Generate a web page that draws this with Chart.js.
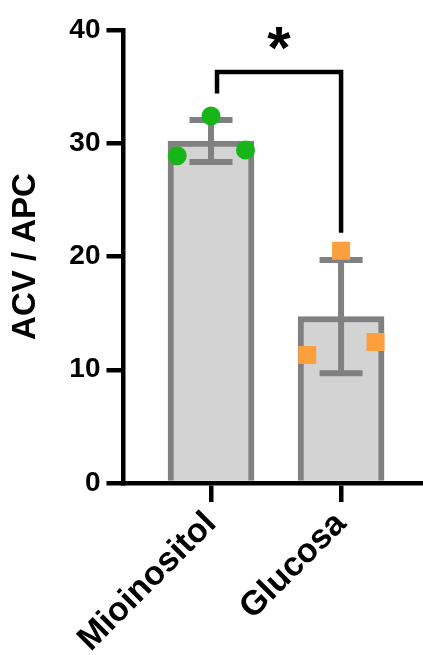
<!DOCTYPE html>
<html>
<head>
<meta charset="utf-8">
<script src="https://cdn.jsdelivr.net/npm/chart.js@4"></script>
<style>
html,body{margin:0;padding:0;background:#fff;}
canvas{display:block;}
</style>
</head>
<body>
<canvas id="c" width="423" height="655"></canvas>
<script>
// ---- data ----
const categories = ['Mioinositol', 'Glucosa'];
const means = [30.2, 14.7];
const sds = [1.85, 5.0];
const mioPoints = [28.9, 32.4, 29.4];
const gluPoints = [11.3, 20.5, 12.45];
const jitter = [-0.26, 0, 0.265];
const yTicks = [0, 10, 20, 30, 40];
const yTitle = 'ACV / APC';
const sigLabel = '*';
const sigPair = [0, 1];
const sigBracketY = 36.3;
const sigLegEnds = [34.4, 22.1];

const FONT = "'Liberation Sans', Arial, Helvetica, sans-serif";
const GRAY = '#808080';

const errorBarPlugin = {
  id: 'errorBars',
  afterDatasetDraw(chart, args) {
    if (args.index !== 0) return;
    const {ctx, scales: {x, y}} = chart;
    ctx.save();
    ctx.strokeStyle = GRAY;
    ctx.lineWidth = 6;
    ctx.lineCap = 'butt';
    means.forEach((m, i) => {
      const px = x.getPixelForValue(i);
      const top = y.getPixelForValue(m + sds[i]);
      const bot = y.getPixelForValue(m - sds[i]);
      ctx.beginPath();
      ctx.moveTo(px, top); ctx.lineTo(px, bot);
      ctx.moveTo(px - 21.5, top); ctx.lineTo(px + 21.5, top);
      ctx.moveTo(px - 21.5, bot); ctx.lineTo(px + 21.5, bot);
      ctx.stroke();
    });
    ctx.restore();
  }
};

const sigPlugin = {
  id: 'sig',
  afterDraw(chart) {
    const {ctx, scales: {x, y}} = chart;
    const x1 = x.getPixelForValue(sigPair[0]) + 6;
    const x2 = x.getPixelForValue(sigPair[1]);
    const yb = y.getPixelForValue(sigBracketY);
    ctx.save();
    ctx.strokeStyle = '#000';
    ctx.lineWidth = 4.5;
    ctx.lineJoin = 'miter';
    ctx.beginPath();
    ctx.moveTo(x1, y.getPixelForValue(sigLegEnds[0]));
    ctx.lineTo(x1, yb);
    ctx.lineTo(x2, yb);
    ctx.lineTo(x2, y.getPixelForValue(sigLegEnds[1]));
    ctx.stroke();
    ctx.fillStyle = '#000';
    const fs = 60;
    ctx.font = 'bold ' + fs + 'px ' + FONT;
    ctx.textAlign = 'center';
    ctx.textBaseline = 'alphabetic';
    ctx.fillText(sigLabel, (x1 + x2) / 2, yb - 39 + 0.58 * fs);
    ctx.restore();
  }
};

const barData = means.map((m, i) => ({x: i, y: m}));
const ptsMio = mioPoints.map((v, i) => ({x: 0 + jitter[i], y: v}));
const ptsGlu = gluPoints.map((v, i) => ({x: 1 + jitter[i], y: v}));

new Chart(document.getElementById('c'), {
  data: {
    datasets: [
      {
        type: 'bar',
        data: barData,
        backgroundColor: '#D3D3D3',
        borderColor: GRAY,
        borderWidth: 6,
        borderSkipped: 'start',
        barThickness: 86,
        order: 3
      },
      {
        type: 'scatter',
        data: ptsMio,
        backgroundColor: '#17B517',
        borderWidth: 0,
        pointStyle: 'circle',
        pointRadius: 9.5,
        order: 1
      },
      {
        type: 'scatter',
        data: ptsGlu,
        backgroundColor: '#FBA03D',
        borderWidth: 0,
        pointStyle: 'rect',
        pointRadius: 12.7,
        order: 1
      }
    ]
  },
  options: {
    responsive: false,
    animation: false,
    devicePixelRatio: 1,
    layout: {autoPadding: false, padding: {top: 30, left: 0, right: 0, bottom: 0}},
    plugins: {legend: {display: false}, tooltip: {enabled: false}},
    scales: {
      x: {
        type: 'linear',
        offset: false,
        bounds: 'data',
        min: -0.673,
        max: 1.63,
        afterBuildTicks(scale) { scale.ticks = categories.map((c, i) => ({value: i})); },
        afterFit(scale) {
          scale.height = 172;
          scale.paddingLeft = 0;
          scale.paddingRight = 0;
        },
        ticks: {
          callback: (v) => categories[v],
          autoSkip: false,
          minRotation: 45,
          maxRotation: 45,
          color: '#000',
          font: {family: FONT, size: 34, weight: 'bold'},
          padding: 2
        },
        grid: {offset: false, drawOnChartArea: false, color: '#000', lineWidth: 4.5, tickLength: 19},
        border: {display: true, color: '#000', width: 4.5}
      },
      y: {
        min: 0,
        max: 40,
        afterBuildTicks(scale) { scale.ticks = yTicks.map(v => ({value: v})); },
        afterFit(scale) { scale.width = 123.5; },
        ticks: {
          color: '#000',
          font: {family: FONT, size: 28, weight: 'bold'},
          padding: 6
        },
        grid: {drawOnChartArea: false, color: '#000', lineWidth: 4.5, tickLength: 17},
        border: {display: true, color: '#000', width: 4.5},
        title: {
          display: true,
          text: yTitle,
          color: '#000',
          font: {family: FONT, size: 33, weight: 'bold'},
          padding: {top: 6, bottom: 0}
        }
      }
    }
  },
  plugins: [errorBarPlugin, sigPlugin]
});
</script>
</body>
</html>
